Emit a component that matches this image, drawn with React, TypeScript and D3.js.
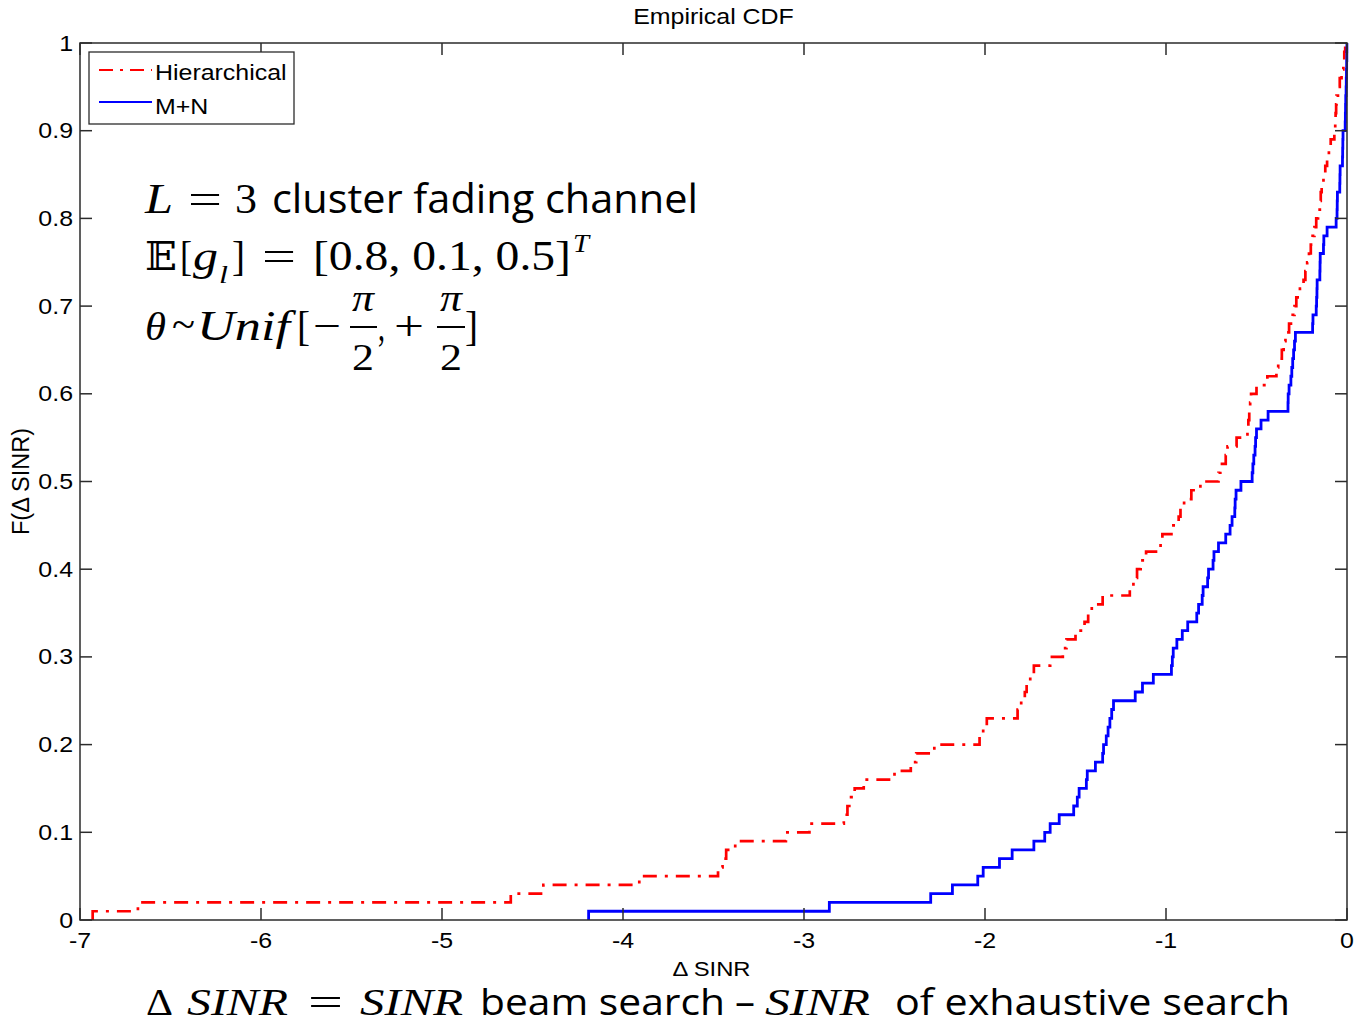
import React from "react";
import * as d3 from "d3";

const hierarchicalSamples = [
  -6.93, -6.68, -4.62, -4.44, -3.91, -3.475, -3.45, -3.43, -3.38, -3.10,
  -2.97, -2.78, -2.76, -2.74, -2.72, -2.67, -2.50, -2.41, -2.38, -2.28,
  -2.03, -2.01, -1.99, -1.82, -1.80, -1.78, -1.77, -1.75, -1.73, -1.64,
  -1.57, -1.55, -1.50, -1.45, -1.43, -1.41, -1.35, -1.20, -1.18, -1.16,
  -1.14, -1.11, -1.03, -1.02, -0.97, -0.93, -0.92, -0.90, -0.86, -0.81,
  -0.71, -0.70, -0.67, -0.66, -0.61, -0.55, -0.545, -0.54, -0.535, -0.53,
  -0.50, -0.44, -0.39, -0.38, -0.36, -0.35, -0.34, -0.32, -0.30, -0.29,
  -0.28, -0.26, -0.24, -0.23, -0.22, -0.21, -0.20, -0.19, -0.18, -0.17,
  -0.16, -0.15, -0.145, -0.14, -0.13, -0.12, -0.11, -0.10, -0.09, -0.07,
  -0.065, -0.063, -0.06, -0.058, -0.05, -0.04, -0.03, -0.02, -0.015, -0.01,
];

const mnSamples = [
  -4.19, -2.86, -2.30, -2.18, -2.04, -2.01, -1.92, -1.85, -1.73, -1.67,
  -1.64, -1.59, -1.51, -1.49, -1.48, -1.44, -1.435, -1.39, -1.35, -1.345,
  -1.33, -1.32, -1.31, -1.30, -1.29, -1.17, -1.13, -1.07, -0.97, -0.965,
  -0.96, -0.94, -0.91, -0.88, -0.83, -0.82, -0.80, -0.795, -0.77, -0.765,
  -0.74, -0.735, -0.71, -0.67, -0.646, -0.635, -0.62, -0.618, -0.613, -0.586,
  -0.524, -0.52, -0.515, -0.508, -0.505, -0.50, -0.475, -0.436, -0.326, -0.325,
  -0.32, -0.31, -0.305, -0.30, -0.295, -0.29, -0.285, -0.19, -0.188, -0.17,
  -0.168, -0.166, -0.165, -0.15, -0.149, -0.148, -0.13, -0.128, -0.11, -0.06,
  -0.055, -0.054, -0.053, -0.04, -0.039, -0.038, -0.025, -0.024, -0.023, -0.022,
  -0.01, -0.009, -0.008, -0.007, -0.005, -0.004, -0.003, -0.002, -0.001, -0.0005,
];

const xTicks = [-7, -6, -5, -4, -3, -2, -1, 0];
const yTicks = [0, 0.1, 0.2, 0.3, 0.4, 0.5, 0.6, 0.7, 0.8, 0.9, 1];
const seriesNames = ["Hierarchical", "M+N"];
const titleText = "Empirical CDF";
const xLabel = "\u0394 SINR";
const yLabel = "F(\u0394 SINR)";

const W = 1358;
const H = 1025;
const L = 80, R = 1347, T = 43, B = 920;
const AX = "#2b2b2b";
const SANS = "'Liberation Sans', Arial, sans-serif";
const SERIF = "'Liberation Serif', 'DejaVu Serif', serif";
const CAL = "'Open Sans', 'Noto Sans', sans-serif";

function ecdfPoints(samples: number[]): [number, number][] {
  const s = [...samples].sort((a, b) => a - b);
  const n = s.length;
  const pts: [number, number][] = [[s[0], 0]];
  s.forEach((v, i) => pts.push([v, (i + 1) / n]));
  return pts;
}

function SText(props: { x: number; y: number; anchor?: string; size?: number; children: any }) {
  const { x, y, anchor = "start", size = 21.5, children } = props;
  return (
    <text
      transform={`translate(${x},${y}) scale(1.16,1)`}
      textAnchor={anchor}
      fontFamily={SANS}
      fontSize={size}
      fill="#000"
    >
      {children}
    </text>
  );
}

function Seg(props: {
  x: number; y: number; len?: number; size: number; family: string; italic?: boolean; children: any;
}) {
  const { x, y, len, size, family, italic, children } = props;
  return (
    <text
      x={x}
      y={y}
      fontSize={size}
      fontFamily={family}
      fontStyle={italic ? "italic" : "normal"}
      textLength={len}
      lengthAdjust={len ? "spacingAndGlyphs" : undefined}
      fill="#000"
    >
      {children}
    </text>
  );
}

export default function App() {
  const x = d3.scaleLinear().domain([-7, 0]).range([L, R]);
  const y = d3.scaleLinear().domain([0, 1]).range([B, T]);
  const line = d3
    .line<[number, number]>()
    .x((d) => x(d[0]))
    .y((d) => y(d[1]))
    .curve(d3.curveStepAfter);

  const redPath = line(ecdfPoints(hierarchicalSamples)) || "";
  const bluePath = line(ecdfPoints(mnSamples)) || "";
  const tl = 12;

  return (
    <svg
      width={W}
      height={H}
      style={{ position: "absolute", left: 0, top: 0, background: "#fff" }}
    >
      <rect x={0} y={0} width={W} height={H} fill="#fff" />
      {/* title */}
      <SText x={(L + R) / 2} y={24} anchor="middle" size={21.5}>{titleText}</SText>

      {/* data */}
      <path d={redPath} fill="none" stroke="#ff0000" strokeWidth={2.7} strokeDasharray="14,8,3,8" />
      <path d={bluePath} fill="none" stroke="#0000ff" strokeWidth={2.8} />

      {/* axes box */}
      <rect x={L} y={T} width={R - L} height={B - T} fill="none" stroke={AX} strokeWidth={1.5} />
      {xTicks.map((t) => (
        <g key={"x" + t}>
          <line x1={x(t)} x2={x(t)} y1={B} y2={B - tl} stroke={AX} strokeWidth={1.5} />
          <line x1={x(t)} x2={x(t)} y1={T} y2={T + tl} stroke={AX} strokeWidth={1.5} />
          <SText x={x(t)} y={948} anchor="middle">{String(t)}</SText>
        </g>
      ))}
      {yTicks.map((t) => (
        <g key={"y" + t}>
          <line x1={L} x2={L + tl} y1={y(t)} y2={y(t)} stroke={AX} strokeWidth={1.5} />
          <line x1={R} x2={R - tl} y1={y(t)} y2={y(t)} stroke={AX} strokeWidth={1.5} />
          <SText x={73} y={y(t) + 7.5} anchor="end">{d3.format("~g")(t)}</SText>
        </g>
      ))}

      {/* axis labels */}
      <SText x={(L + R) / 2 - 2} y={976} anchor="middle" size={20.5}>{xLabel}</SText>
      <text
        transform={`translate(29,${(T + B) / 2}) rotate(-90)`}
        textAnchor="middle"
        fontFamily={SANS}
        fontSize={23.5}
        fill="#000"
      >
        {yLabel}
      </text>

      {/* legend */}
      <rect x={89} y={52} width={205} height={72} fill="#fff" stroke={AX} strokeWidth={1.3} />
      <line x1={99} x2={152} y1={70} y2={70} stroke="#ff0000" strokeWidth={2.2} strokeDasharray="14,7,3,7" />
      <line x1={99} x2={152} y1={102} y2={102} stroke="#0000ff" strokeWidth={2.2} />
      <SText x={155} y={80} size={21.5}>{seriesNames[0]}</SText>
      <SText x={155} y={114} size={21.5}>{seriesNames[1]}</SText>

      {/* annotation line 1 */}
      <Seg x={145} y={213} size={42} family={SERIF} italic len={28}>L</Seg>
      <Seg x={188} y={213} size={42} family={SERIF} len={34}>=</Seg>
      <Seg x={235} y={213} size={42} family={SERIF} len={22}>3</Seg>
      <Seg x={272} y={213} size={40} family={CAL} len={426}>cluster fading channel</Seg>

      {/* annotation line 2 */}
      <Seg x={145} y={270} size={40} family={"'DejaVu Serif', 'DejaVu Sans', serif"} len={32}>{"\u{1D53C}"}</Seg>
      <Seg x={180} y={270} size={42} family={SERIF} len={12}>[</Seg>
      <Seg x={193} y={270} size={42} family={SERIF} italic len={25}>g</Seg>
      <Seg x={219} y={283} size={26} family={SERIF} italic len={9}>l</Seg>
      <Seg x={232} y={270} size={42} family={SERIF} len={13}>]</Seg>
      <Seg x={262} y={270} size={42} family={SERIF} len={34}>=</Seg>
      <Seg x={313} y={270} size={42} family={SERIF} len={258}>[0.8, 0.1, 0.5]</Seg>
      <Seg x={573} y={252} size={26} family={SERIF} italic len={16}>T</Seg>

      {/* annotation line 3 */}
      <Seg x={145} y={340} size={40} family={SERIF} italic len={21}>{"\u03B8"}</Seg>
      <Seg x={172} y={338} size={40} family={SERIF} len={23}>~</Seg>
      <Seg x={197} y={340} size={42} family={SERIF} italic len={93}>Unif</Seg>
      <Seg x={297} y={340} size={42} family={SERIF} len={13}>[</Seg>
      <Seg x={313} y={340} size={42} family={SERIF} len={28}>{"\u2212"}</Seg>
      <Seg x={352} y={311} size={38} family={SERIF} italic len={22}>{"\u03C0"}</Seg>
      <line x1={350} x2={377} y1={327} y2={327} stroke="#000" strokeWidth={2} />
      <Seg x={352} y={370} size={38} family={SERIF} len={22}>2</Seg>
      <Seg x={378} y={340} size={42} family={SERIF} len={7}>,</Seg>
      <Seg x={394} y={340} size={42} family={SERIF} len={30}>+</Seg>
      <Seg x={440} y={311} size={38} family={SERIF} italic len={22}>{"\u03C0"}</Seg>
      <line x1={437} x2={465} y1={327} y2={327} stroke="#000" strokeWidth={2} />
      <Seg x={440} y={370} size={38} family={SERIF} len={22}>2</Seg>
      <Seg x={465} y={340} size={42} family={SERIF} len={13}>]</Seg>

      {/* bottom formula */}
      <Seg x={146} y={1015} size={38} family={SERIF} len={27}>{"\u0394"}</Seg>
      <Seg x={187} y={1015} size={38} family={SERIF} italic len={101}>SINR</Seg>
      <Seg x={308} y={1015} size={38} family={SERIF} len={35}>=</Seg>
      <Seg x={360} y={1015} size={38} family={SERIF} italic len={103}>SINR</Seg>
      <Seg x={480} y={1015} size={37} family={CAL} len={245}>beam search</Seg>
      <Seg x={735} y={1015} size={37} family={CAL} len={20}>{"\u2013"}</Seg>
      <Seg x={765} y={1015} size={38} family={SERIF} italic len={105}>SINR</Seg>
      <Seg x={895} y={1015} size={37} family={CAL} len={395}>of exhaustive search</Seg>
    </svg>
  );
}
